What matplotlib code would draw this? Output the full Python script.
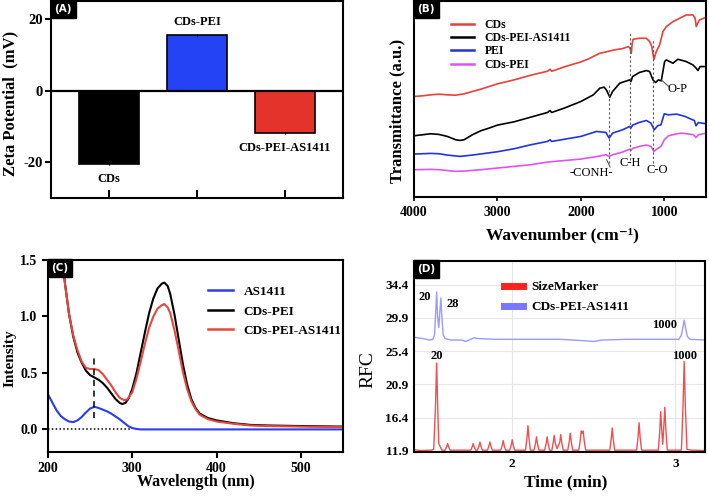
import matplotlib
matplotlib.use("Agg")
import matplotlib.pyplot as plt
from matplotlib.lines import Line2D
import numpy as np

plt.rcParams['font.family'] = ['Liberation Serif', 'DejaVu Serif']
plt.rcParams['font.weight'] = 'bold'
plt.rcParams['axes.labelweight'] = 'bold'

# ---------------- Panel A data ----------------
a_categories = ["CDs", "CDs-PEI", "CDs-PEI-AS1411"]
a_values = [-20.5, 15.5, -11.9]
a_errors = [0.3, 0.2, 0.3]
a_colors = ["#000000", "#2443f5", "#e3332b"]

# ---------------- Panel B data (FTIR, a.u.) ----------------
b_cds_x = [4000, 3900, 3800, 3700, 3600, 3500, 3400, 3200, 3000, 2800, 2600, 2400, 2370, 2350, 2300, 2200,
           2000, 1900, 1773, 1700, 1600, 1500, 1430, 1410, 1395, 1385, 1374, 1300, 1215, 1175, 1150, 1124,
           1096, 1056, 1016, 976, 896, 817, 737, 657, 630, 617, 600, 578, 500]
b_cds_y = [290, 288, 285, 283, 285, 286, 282, 268, 252, 240, 226, 214, 208, 214, 210, 201,
           186, 176, 160, 156, 150, 146, 140, 145, 160, 130, 118, 115, 115, 125, 140, 178,
           155, 135, 95, 80, 65, 55, 45, 45, 55, 80, 70, 60, 52]
b_apt_x = [4000, 3900, 3800, 3700, 3600, 3500, 3450, 3400, 3300, 3200, 3100, 3000, 2800, 2600, 2400, 2370,
           2350, 2200, 2000, 1850, 1773, 1720, 1690, 1653, 1620, 1534, 1414, 1400, 1380, 1300, 1215, 1175,
           1136, 1104, 1070, 1036, 996, 976, 896, 837, 737, 657, 617, 597, 570, 500]
b_apt_y = [408, 405, 402, 404, 410, 420, 422, 420, 405, 393, 385, 376, 366, 352, 338, 332,
           338, 325, 305, 285, 265, 262, 272, 292, 275, 250, 240, 245, 230, 218, 212, 215,
           240, 248, 240, 243, 185, 180, 190, 178, 185, 195, 205, 212, 200, 200]
b_pei_x = [4000, 3800, 3700, 3600, 3450, 3300, 3000, 2800, 2600, 2400, 2370, 2350, 2000, 1813, 1700, 1661,
           1620, 1500, 1414, 1400, 1380, 1300, 1215, 1160, 1120, 1080, 1040, 1000, 950, 850, 750, 680,
           640, 620, 590, 550, 500]
b_pei_y = [463, 461, 462, 466, 470, 466, 456, 447, 435, 425, 420, 425, 410, 395, 398, 415,
           400, 390, 380, 385, 376, 368, 362, 370, 390, 378, 375, 342, 345, 343, 350, 358,
           362, 378, 368, 370, 372]
b_cdspei_x = [4000, 3800, 3700, 3500, 3400, 3200, 3000, 2600, 2400, 2000, 1800, 1700, 1661, 1620, 1500, 1414,
              1400, 1380, 1300, 1215, 1160, 1125, 1090, 1040, 1000, 950, 900, 800, 700, 650, 620, 590, 500]
b_cdspei_y = [510, 509, 510, 515, 514, 510, 505, 495, 487, 478, 470, 465, 470, 465, 457, 448,
              452, 446, 440, 436, 440, 455, 448, 440, 420, 408, 405, 400, 403, 405, 413, 405, 400]
b_series = ["CDs", "CDs-PEI-AS1411", "PEI", "CDs-PEI"]
b_colors = ["#e8403a", "#000000", "#2233dd", "#dd55ee"]

# ---------------- Panel C data (UV-vis) ----------------
c_wl_cdspei = [210, 215, 218, 220, 225, 230, 235, 240, 245, 250, 255, 260, 265, 270, 275, 280, 285, 288, 292,
               296, 300, 305, 310, 315, 320, 325, 330, 335, 338, 342, 345, 350, 355, 360, 365, 370, 375, 380,
               390, 400, 420, 440, 460, 500, 550]
c_int_cdspei = [1.75, 1.58, 1.45, 1.30, 1.02, 0.82, 0.68, 0.59, 0.52, 0.48, 0.46, 0.44, 0.41, 0.37, 0.32, 0.27,
                0.235, 0.225, 0.235, 0.28, 0.36, 0.50, 0.68, 0.86, 1.03, 1.16, 1.25, 1.29, 1.30, 1.27, 1.20,
                1.02, 0.80, 0.58, 0.40, 0.27, 0.19, 0.14, 0.10, 0.08, 0.055, 0.04, 0.035, 0.03, 0.025]
c_wl_apt = [210, 215, 218, 220, 225, 230, 235, 240, 245, 250, 255, 260, 265, 270, 275, 280, 285, 290, 294,
            300, 305, 310, 315, 320, 325, 330, 335, 338, 342, 345, 350, 355, 360, 365, 370, 375, 380,
            390, 400, 420, 440, 460, 500, 550]
c_int_apt = [1.75, 1.58, 1.45, 1.30, 1.02, 0.83, 0.70, 0.60, 0.545, 0.535, 0.535, 0.525, 0.49, 0.44, 0.39, 0.33,
             0.28, 0.26, 0.265, 0.33, 0.45, 0.60, 0.76, 0.90, 1.00, 1.07, 1.10, 1.11, 1.08, 1.03, 0.88, 0.70,
             0.51, 0.36, 0.25, 0.18, 0.13, 0.09, 0.07, 0.05, 0.035, 0.03, 0.025, 0.02]
c_wl_as = [200, 205, 210, 215, 220, 225, 230, 235, 240, 245, 250, 255, 260, 265, 270, 275, 280, 285, 290, 295,
           300, 305, 310, 550]
c_int_as = [0.31, 0.24, 0.17, 0.12, 0.09, 0.07, 0.065, 0.08, 0.11, 0.15, 0.185, 0.20, 0.19, 0.175, 0.16, 0.14,
            0.115, 0.09, 0.06, 0.03, 0.012, 0.004, 0.0, 0.0]
c_labels = ["AS1411", "CDs-PEI", "CDs-PEI-AS1411"]
c_colors = ["#2a3cf0", "#000000", "#e8453c"]

# ---------------- Panel D data (electropherogram) ----------------
d_marker_t = [1.405, 1.45, 1.51, 1.525, 1.536, 1.543, 1.550, 1.556, 1.562, 1.575,
              1.595, 1.604, 1.610, 1.616, 1.625,
              1.751, 1.760, 1.766, 1.772, 1.781,
              1.792, 1.801, 1.807, 1.813, 1.822,
              1.853, 1.862, 1.868, 1.874, 1.883,
              1.934, 1.943, 1.949, 1.955, 1.964,
              1.989, 1.998, 2.004, 2.010, 2.019,
              2.085, 2.094, 2.100, 2.106, 2.115,
              2.137, 2.146, 2.152, 2.158, 2.167,
              2.202, 2.211, 2.217, 2.223, 2.232,
              2.246, 2.254, 2.260, 2.266, 2.278,
              2.294, 2.300, 2.306, 2.315,
              2.343, 2.352, 2.358, 2.364, 2.373,
              2.410, 2.419, 2.425, 2.431, 2.437, 2.443, 2.452,
              2.599, 2.608, 2.614, 2.620, 2.629,
              2.763, 2.772, 2.778, 2.784, 2.793,
              2.895, 2.904, 2.910, 2.917, 2.922, 2.928, 2.935, 2.941, 2.950,
              3.036, 3.046, 3.053, 3.060, 3.070, 3.100, 3.180]
d_marker_rfc = [12.05, 11.95, 12.0, 12.1, 17.9, 23.8, 17.5, 12.9, 12.6, 12.0,
                12.0, 12.45, 12.9, 12.45, 12.0,
                12.0, 12.45, 12.9, 12.45, 12.0,
                12.0, 12.55, 13.1, 12.55, 12.0,
                12.0, 12.55, 13.1, 12.55, 12.0,
                12.0, 12.65, 13.3, 12.65, 12.0,
                12.0, 12.7, 13.4, 12.7, 12.0,
                12.0, 13.65, 15.3, 13.65, 12.0,
                12.0, 12.9, 13.8, 12.9, 12.0,
                12.0, 12.9, 13.8, 12.9, 12.0,
                12.0, 13.0, 14.0, 13.0, 12.2,
                13.05, 14.1, 13.05, 12.0,
                12.0, 13.15, 14.3, 13.15, 12.0,
                12.0, 13.3, 14.6, 14.3, 14.6, 13.3, 12.0,
                12.0, 13.5, 15.0, 13.5, 12.0,
                12.0, 13.85, 15.7, 13.85, 12.0,
                12.0, 14.6, 17.2, 14.4, 12.8, 14.9, 17.8, 14.9, 12.0,
                12.0, 18.0, 24.0, 18.0, 12.1, 12.0, 11.95]
d_sample_t = [1.405, 1.43, 1.46, 1.48, 1.50, 1.52, 1.530, 1.537, 1.543, 1.549, 1.556, 1.562, 1.569, 1.575,
              1.583, 1.595, 1.63, 1.70, 1.72, 1.73, 1.75, 1.77, 1.80, 1.90, 2.10, 2.30, 2.45, 2.50, 2.55,
              2.70, 2.90, 3.02, 3.035, 3.045, 3.053, 3.061, 3.072, 3.09, 3.18]
d_sample_rfc = [27.3, 27.2, 27.1, 27.0, 26.9, 27.0, 27.6, 30.5, 33.4, 30.0, 28.6, 30.5, 32.6, 30.0,
                27.6, 27.1, 26.9, 26.9, 26.7, 26.8, 27.0, 27.2, 27.1, 27.0, 27.0, 27.0, 26.8, 26.7, 26.9,
                27.0, 27.0, 27.0, 27.5, 28.6, 29.6, 28.6, 27.4, 27.0, 26.9]
d_yticks = [11.9, 16.4, 20.9, 25.4, 29.9, 34.4]
d_labels = ["SizeMarker", "CDs-PEI-AS1411"]

# ---------------- Figure ----------------
W, H = 709, 496
fig = plt.figure(figsize=(W / 100, H / 100), dpi=100)


def px_axes(l, t, r, b):
    return fig.add_axes([l / W, 1 - b / H, (r - l) / W, (b - t) / H])


def panel_tag(ax, s):
    ax.text(0.012, 0.985, s, transform=ax.transAxes, ha='left', va='top', color='white',
            fontsize=7.5, fontweight='bold', family='DejaVu Sans',
            bbox=dict(boxstyle='square,pad=0.35', fc='black', ec='black'), zorder=10)


# ---- Panel A ----
axA = px_axes(51, 1, 343, 198)
xpos = np.arange(len(a_categories))
axA.bar(xpos, a_values, width=0.68, color=a_colors, edgecolor='black', linewidth=1.2,
        yerr=a_errors, capsize=0, error_kw=dict(ecolor='black', lw=1))
axA.axhline(0, color='black', lw=1.6)
axA.set_xlim(-0.66, 2.66)
axA.set_ylim(-30, 25)
axA.set_yticks([-20, 0, 20])
axA.set_yticklabels(['-20', '0', '20'])
axA.set_xticks(xpos)
axA.set_xticklabels([])
axA.tick_params(axis='x', direction='in', length=6, width=1.5)
axA.tick_params(axis='y', direction='out', length=4, width=1.5, labelsize=10.5, pad=2)
for sp in axA.spines.values():
    sp.set_linewidth(1.5)
axA.text(0, -24.6, a_categories[0], ha='center', va='center', fontsize=9, fontweight='bold')
axA.text(1, 19.0, a_categories[1], ha='center', va='center', fontsize=9, fontweight='bold')
axA.text(2, -16.0, a_categories[2], ha='center', va='center', fontsize=9, fontweight='bold')
axA.set_ylabel('Zeta Potential  (mV)', fontsize=12)
axA.yaxis.set_label_coords(-0.112, 0.48)
panel_tag(axA, '(A)')

# ---- Panel B ----
axB = px_axes(414, 1, 706, 197)
b_data = [(b_cds_x, b_cds_y), (b_apt_x, b_apt_y), (b_pei_x, b_pei_y), (b_cdspei_x, b_cdspei_y)]
for (xs, ys), lab, col in zip(b_data, b_series, b_colors):
    axB.plot(xs, 600 - np.array(ys), color=col, lw=1.2, label=lab)
axB.set_xlim(4000, 500)
axB.set_ylim(8, 597)
axB.set_yticks([])
axB.set_xticks([4000, 3000, 2000, 1000])
axB.tick_params(axis='x', direction='out', length=3, width=1.2, labelsize=10)
for sp in axB.spines.values():
    sp.set_linewidth(1.5)
axB.plot([1665, 1665], [110, 345], ls=(0, (2, 2)), color='#555555', lw=0.8)
axB.plot([1414, 1414], [120, 500], ls=(0, (2, 2)), color='#555555', lw=0.8)
axB.plot([1135, 1135], [110, 480], ls=(0, (2, 2)), color='#555555', lw=0.8)
axB.text(1873, 80, '-CONH-', ha='center', va='center', fontsize=9, fontweight='normal')
axB.text(1406, 110, 'C-H', ha='center', va='center', fontsize=9, fontweight='normal')
axB.text(1084, 90, 'C-O', ha='center', va='center', fontsize=9, fontweight='normal')
axB.text(837, 332, 'O-P', ha='center', va='center', fontsize=9, fontweight='normal')
axB.plot([1036, 936], [360, 338], color='#444444', lw=0.7)
axB.plot([1650, 1690], [98, 120], color='#444444', lw=0.7)
leg = axB.legend(loc='upper left', bbox_to_anchor=(0.105, 0.94), frameon=False, fontsize=8.5,
                 handlelength=2.0, handletextpad=0.9, labelspacing=0.12, borderpad=0)
for h in leg.get_lines():
    h.set_linewidth(1.8)
axB.set_xlabel('Wavenumber (cm⁻¹)', fontsize=12.5)
axB.xaxis.set_label_coords(0.507, -0.157)
axB.set_ylabel('Transmittance (a.u.)', fontsize=12)
axB.yaxis.set_label_coords(-0.031, 0.44)
panel_tag(axB, '(B)')

# ---- Panel C ----
axC = px_axes(48, 260, 343, 452)
axC.plot(c_wl_as, c_int_as, color=c_colors[0], lw=1.5, label=c_labels[0])
axC.plot(c_wl_cdspei, c_int_cdspei, color=c_colors[1], lw=1.5, label=c_labels[1])
axC.plot(c_wl_apt, c_int_apt, color=c_colors[2], lw=1.5, label=c_labels[2])
axC.plot([200, 298], [0, 0], color='black', ls=(0, (1, 1.5)), lw=1.1)
axC.plot([255, 255], [0.10, 0.64], color='black', ls=(0, (4, 3)), lw=1.1)
axC.set_xlim(200, 550)
axC.set_ylim(-0.2, 1.5)
axC.set_xticks([200, 300, 400, 500])
axC.set_yticks([0.0, 0.5, 1.0, 1.5])
axC.set_yticklabels(['0.0', '0.5', '1.0', '1.5'])
axC.tick_params(direction='out', length=4, width=1.5, labelsize=10)
for sp in axC.spines.values():
    sp.set_linewidth(1.5)
legC = axC.legend(loc='upper left', bbox_to_anchor=(0.52, 0.9), frameon=False, fontsize=9.5,
                  handlelength=1.9, handletextpad=0.8, labelspacing=0.55, borderpad=0)
for h in legC.get_lines():
    h.set_linewidth(1.8)
axC.set_xlabel('Wavelength (nm)', fontsize=11.5)
axC.xaxis.set_label_coords(0.50, -0.115)
axC.set_ylabel('Intensity', fontsize=11)
axC.yaxis.set_label_coords(-0.105, 0.49)
panel_tag(axC, '(C)')

# ---- Panel D ----
axD = px_axes(414, 261, 705, 452)
axD.plot(d_marker_t, d_marker_rfc, color='#ee5050', lw=1.0)
axD.plot(d_sample_t, d_sample_rfc, color='#9a9aff', lw=1.0)
axD.set_xlim(1.405, 3.18)
axD.set_ylim(11.75, 37.6)
axD.set_yticks(d_yticks)
axD.set_yticklabels([f"{v:.1f}" for v in d_yticks])
axD.set_xticks([2, 3])
axD.grid(True, color='#e6e6e6', lw=0.8)
axD.set_axisbelow(True)
axD.tick_params(length=0, labelsize=9.5, pad=4)
for sp in axD.spines.values():
    sp.set_linewidth(1.5)
axD.text(1.472, 32.7, '20', ha='center', va='center', fontsize=9, fontweight='bold')
axD.text(1.644, 31.8, '28', ha='center', va='center', fontsize=9, fontweight='bold')
axD.text(2.935, 28.9, '1000', ha='center', va='center', fontsize=9, fontweight='bold')
axD.text(1.543, 24.7, '20', ha='center', va='center', fontsize=9, fontweight='bold')
axD.text(3.057, 24.7, '1000', ha='center', va='center', fontsize=9, fontweight='bold')
handlesD = [Line2D([], [], color='#ff2020', lw=5), Line2D([], [], color='#7777ff', lw=5)]
axD.legend(handlesD, d_labels, loc='upper left', bbox_to_anchor=(0.285, 0.93), frameon=False,
           fontsize=9.5, handlelength=1.5, handletextpad=0.6, labelspacing=0.6, borderpad=0)
axD.set_xlabel('Time (min)', fontsize=12.5)
axD.xaxis.set_label_coords(0.52, -0.115)
axD.set_ylabel('RFC', fontsize=14, fontweight='normal')
axD.yaxis.set_label_coords(-0.128, 0.43)
panel_tag(axD, '(D)')

fig.savefig('out.png', dpi=100)
